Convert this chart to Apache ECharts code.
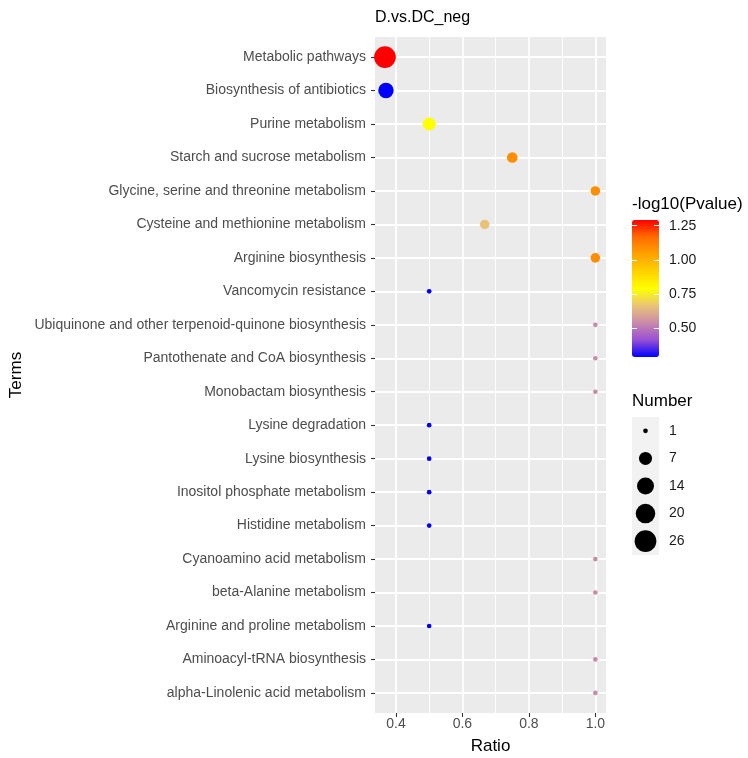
<!DOCTYPE html>
<html>
<head>
<meta charset="utf-8">
<script src="https://cdn.jsdelivr.net/npm/echarts@6/dist/echarts.min.js"></script>
<style>
  html, body { margin: 0; background: #fff; }
  #chart { width: 748px; height: 758px; }
</style>
</head>
<body>
<div id="chart"></div>
<script>
// pathway terms, top to bottom
const terms = [
  'Metabolic pathways',
  'Biosynthesis of antibiotics',
  'Purine metabolism',
  'Starch and sucrose metabolism',
  'Glycine, serine and threonine metabolism',
  'Cysteine and methionine metabolism',
  'Arginine biosynthesis',
  'Vancomycin resistance',
  'Ubiquinone and other terpenoid-quinone biosynthesis',
  'Pantothenate and CoA biosynthesis',
  'Monobactam biosynthesis',
  'Lysine degradation',
  'Lysine biosynthesis',
  'Inositol phosphate metabolism',
  'Histidine metabolism',
  'Cyanoamino acid metabolism',
  'beta-Alanine metabolism',
  'Arginine and proline metabolism',
  'Aminoacyl-tRNA biosynthesis',
  'alpha-Linolenic acid metabolism'
]
const ratios = [0.367, 0.37, 0.5, 0.75, 1.0, 0.667, 1.0, 0.5, 1.0, 1.0, 1.0, 0.5, 0.5, 0.5, 0.5, 1.0, 1.0, 0.5, 1.0, 1.0]
const numbers = [26, 11, 7, 4, 3, 3, 3, 1, 1, 1, 1, 1, 1, 1, 1, 1, 1, 1, 1, 1]
const logP = [1.292, 0.287, 0.79, 1.09, 1.09, 0.66, 1.09, 0.287, 0.54, 0.54, 0.54, 0.287, 0.287, 0.287, 0.287, 0.54, 0.54, 0.287, 0.54, 0.54]

const ratioTicks = [0.4, 0.6, 0.8, 1.0]
const ratioMinor = [0.5, 0.7, 0.9]
const colorTicks = [0.5, 0.75, 1.0, 1.25]
const sizeBreaks = [1, 7, 14, 20, 26]

// blue -> yellow -> red, evenly spaced stops sampled in Lab like ggplot
const gradient = ['#0000FF', '#9850D5', '#CA8AAA', '#EAC476', '#FFFF00', '#FFD100', '#FFA200', '#FF6C00', '#FF0000']

const FONT = "'Liberation Sans', Arial, sans-serif"
const pMin = Math.min(...logP)
const pMax = Math.max(...logP)
const nMin = Math.min(...numbers)
const nMax = Math.max(...numbers)

// ggplot area scale (range 1..6) -> pixel diameter
const sizeOf = (n) => {
  const s = 1 + 5 * Math.sqrt((n - nMin) / (nMax - nMin))
  return 3.4 * s + 1.3
}

const chart = echarts.init(document.getElementById('chart'))

const option = {
  animation: false,
  textStyle: { fontFamily: FONT },
  title: [
    { text: 'D.vs.DC_neg', left: 375, top: 10, padding: 0,
      textStyle: { fontSize: 16, fontWeight: 'normal', color: '#000', fontFamily: FONT } },
    { text: '-log10(Pvalue)', left: 632, top: 196, padding: 0,
      textStyle: { fontSize: 17, fontWeight: 'normal', color: '#000', fontFamily: FONT } },
    { text: 'Number', left: 632, top: 393, padding: 0,
      textStyle: { fontSize: 17, fontWeight: 'normal', color: '#000', fontFamily: FONT } }
  ],
  grid: [
    { left: 375, right: 142, top: 37, bottom: 45, outerBoundsMode: 'none', show: true, backgroundColor: '#EBEBEB', borderWidth: 0 },
    { left: 632, top: 220, width: 27, height: 137, outerBoundsMode: 'none', show: false },
    { left: 632, top: 417, width: 27, height: 138, outerBoundsMode: 'none', show: true, backgroundColor: '#F2F2F2', borderWidth: 0 }
  ],
  xAxis: [
    {
      type: 'value', gridIndex: 0, min: 0.337, max: 1.032, position: 'bottom',
      name: 'Ratio', nameLocation: 'middle', nameGap: 25,
      nameTextStyle: { fontSize: 17, color: '#000', fontFamily: FONT },
      axisLine: { show: false, onZero: false },
      axisTick: { show: true, length: 4, customValues: ratioTicks, lineStyle: { color: '#333', width: 1.1 } },
      axisLabel: { customValues: ratioTicks, formatter: (v) => v.toFixed(1), color: '#4D4D4D', fontSize: 14, margin: 4 },
      splitLine: { show: true, lineStyle: { color: '#fff', width: 1.8 } }
    },
    {
      type: 'value', gridIndex: 0, min: 0.337, max: 1.032, position: 'top',
      axisLine: { show: false, onZero: false },
      axisTick: { show: false, customValues: ratioMinor },
      axisLabel: { show: false, customValues: ratioMinor },
      splitLine: { show: true, lineStyle: { color: '#fff', width: 0.9 } }
    },
    { type: 'value', gridIndex: 1, min: 0, max: 1, show: false },
    { type: 'value', gridIndex: 2, min: 0, max: 1, show: false }
  ],
  yAxis: [
    {
      type: 'value', gridIndex: 0, inverse: true, min: -0.6, max: terms.length - 0.4,
      name: 'Terms', nameLocation: 'middle', nameGap: 350, nameRotate: 90,
      nameTextStyle: { fontSize: 17, color: '#000', fontFamily: FONT },
      axisLine: { show: false, onZero: false },
      axisTick: { show: true, length: 4, customValues: terms.map((_, i) => i), lineStyle: { color: '#333', width: 1.1 } },
      axisLabel: { customValues: terms.map((_, i) => i), formatter: (v) => terms[Math.round(v)], color: '#4D4D4D', fontSize: 14, margin: 9 },
      splitLine: { show: true, lineStyle: { color: '#fff', width: 1.8 } }
    },
    {
      type: 'value', gridIndex: 1, min: pMin, max: pMax, position: 'left', z: 10,
      axisLine: { show: false, onZero: false },
      axisTick: { show: true, inside: true, length: 5, customValues: colorTicks, lineStyle: { color: '#fff', width: 1 } },
      axisLabel: { show: false, customValues: colorTicks },
      splitLine: { show: false }
    },
    {
      type: 'value', gridIndex: 1, min: pMin, max: pMax, position: 'right', z: 10,
      axisLine: { show: false, onZero: false },
      axisTick: { show: true, inside: true, length: 5, customValues: colorTicks, lineStyle: { color: '#fff', width: 1 } },
      axisLabel: { customValues: colorTicks, formatter: (v) => v.toFixed(2), color: '#1a1a1a', fontSize: 14, margin: 10 },
      splitLine: { show: false }
    },
    {
      type: 'category', gridIndex: 2, inverse: true, position: 'right',
      data: sizeBreaks.map(String),
      axisLine: { show: false, onZero: false },
      axisTick: { show: false },
      axisLabel: { color: '#1a1a1a', fontSize: 14, margin: 10 },
      splitLine: { show: false }
    }
  ],
  visualMap: {
    type: 'continuous',
    seriesIndex: 0,
    dimension: 2,
    min: pMin,
    max: pMax,
    left: 632,
    top: 220,
    padding: 0,
    itemWidth: 27,
    itemHeight: 137,
    calculable: false,
    z: 1,
    inRange: { color: gradient }
  },
  series: [
    {
      type: 'scatter',
      xAxisIndex: 0,
      yAxisIndex: 0,
      data: terms.map((t, i) => [ratios[i], i, logP[i], numbers[i]]),
      symbolSize: (v) => sizeOf(v[3]),
      itemStyle: { opacity: 1 }
    },
    {
      type: 'scatter',
      xAxisIndex: 3,
      yAxisIndex: 3,
      data: sizeBreaks.map((n, i) => [0.5, i, n]),
      symbolSize: (v) => sizeOf(v[2]),
      itemStyle: { color: '#000', opacity: 1 }
    }
  ]
}

chart.setOption(option)
</script>
</body>
</html>
